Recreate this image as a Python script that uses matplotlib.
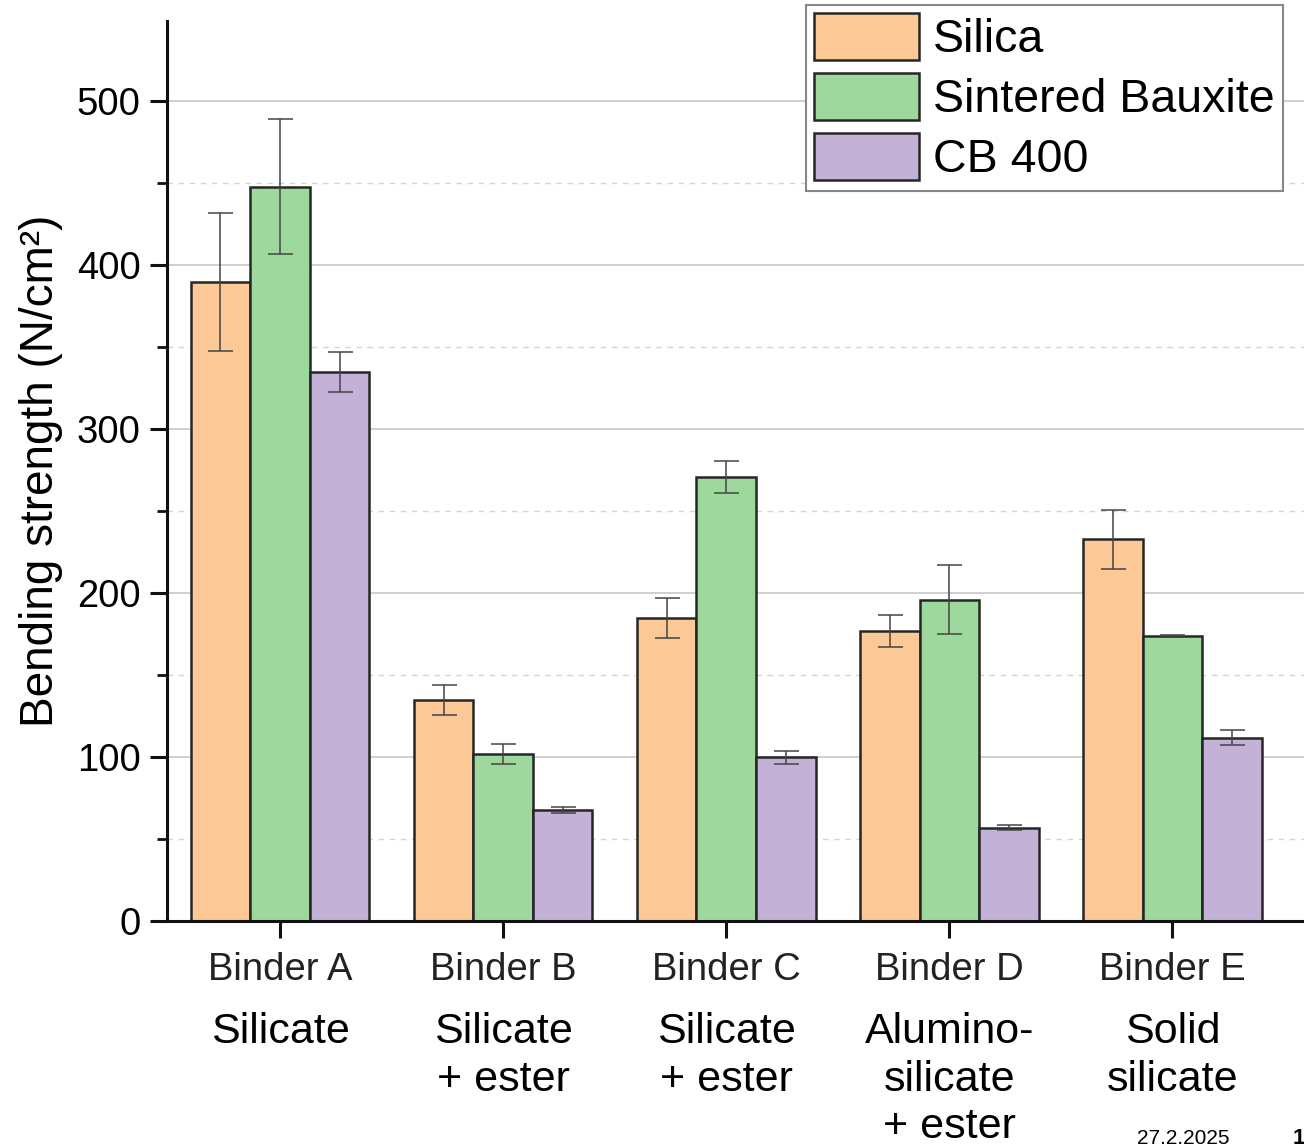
import numpy as np
import matplotlib
matplotlib.use('Agg')
import matplotlib.pyplot as plt
import matplotlib.transforms as mtransforms
from matplotlib.ticker import MultipleLocator

plt.rcParams['font.family'] = ['Liberation Sans', 'DejaVu Sans']

binders = ['Binder A', 'Binder B', 'Binder C', 'Binder D', 'Binder E']
binder_types = ['Silicate', 'Silicate\n+ ester', 'Silicate\n+ ester',
                'Alumino-\nsilicate\n+ ester', 'Solid\nsilicate']
sands = ['Silica', 'Sintered Bauxite', 'CB 400']

silica = [390, 135, 185, 177, 233]
silica_err = [42, 9, 12, 10, 18]
bauxite = [448, 102, 271, 196, 174]
bauxite_err = [41, 6, 10, 21, 0.5]
cb400 = [335, 68, 100, 57, 112]
cb400_err = [12, 2, 4, 1.5, 4.5]

colors = ['#fcc896', '#9ed89c', '#c3b1d7']

fig = plt.figure(figsize=(13.04, 11.46), dpi=100)
ax = fig.add_axes([0.128, 0.196, 0.872, 0.7857])

x = np.arange(len(binders))
width = 0.267
series = [(silica, silica_err), (bauxite, bauxite_err), (cb400, cb400_err)]
for i, (vals, errs) in enumerate(series):
    ax.bar(x + (i - 1) * width, vals, width, color=colors[i], edgecolor='#262626',
           linewidth=1.8, label=sands[i], zorder=2,
           yerr=errs, error_kw=dict(ecolor='#444444', elinewidth=1.1, capsize=9,
                                    capthick=1.1, zorder=3))

ax.set_xlim(-0.507, 4.59)
ax.set_ylim(0, 549)
ax.yaxis.set_major_locator(MultipleLocator(100))
ax.yaxis.set_minor_locator(MultipleLocator(50))
ax.grid(axis='y', which='major', color='#c8c8c8', linewidth=1.2, zorder=0)
ax.grid(axis='y', which='minor', color='#d4d4d4', linewidth=1.0, linestyle=(0, (4, 4)), zorder=0)
ax.set_axisbelow(True)

for side in ['top', 'right']:
    ax.spines[side].set_visible(False)
for side in ['left', 'bottom']:
    ax.spines[side].set_linewidth(2.2)
    ax.spines[side].set_color('#111111')

ax.set_xticks(x)
ax.set_xticklabels(binders, fontsize=27.5, color='#222222')
ax.tick_params(axis='both', which='major', direction='out', length=12, width=2.2, color='#111111')
ax.tick_params(axis='y', which='minor', direction='out', length=7, width=2.0, color='#111111')
ax.tick_params(axis='y', labelsize=27.5, pad=7)
ax.tick_params(axis='x', pad=10)
ax.set_ylabel('Bending strength (N/cm²)', fontsize=33, labelpad=10)

leg = ax.legend(loc='upper right', bbox_to_anchor=(1283 / 1304, 1 - 5 / 1146),
                bbox_transform=fig.transFigure, fontsize=33.5, frameon=True, fancybox=False,
                edgecolor='#888888', framealpha=1, handlelength=2.25, handleheight=1.15,
                handletextpad=0.3, labelspacing=0.24, borderpad=0.18, borderaxespad=0)
leg.get_frame().set_linewidth(1.5)

# binder chemistry written under each category
trans = mtransforms.blended_transform_factory(ax.transData, fig.transFigure)
for xi, txt in zip(x, binder_types):
    ax.text(xi, 1 - 1012 / 1146, txt, transform=trans, ha='center', va='top',
            fontsize=31, linespacing=1.25)

fig.text(1183 / 1304, 1 - 1138 / 1146, '27.2.2025', ha='center', va='center', fontsize=15)
fig.text(1293 / 1304, 1 - 1138 / 1146, '1', ha='left', va='center', fontsize=16, fontweight='bold')

fig.savefig('out.png', dpi=100)
